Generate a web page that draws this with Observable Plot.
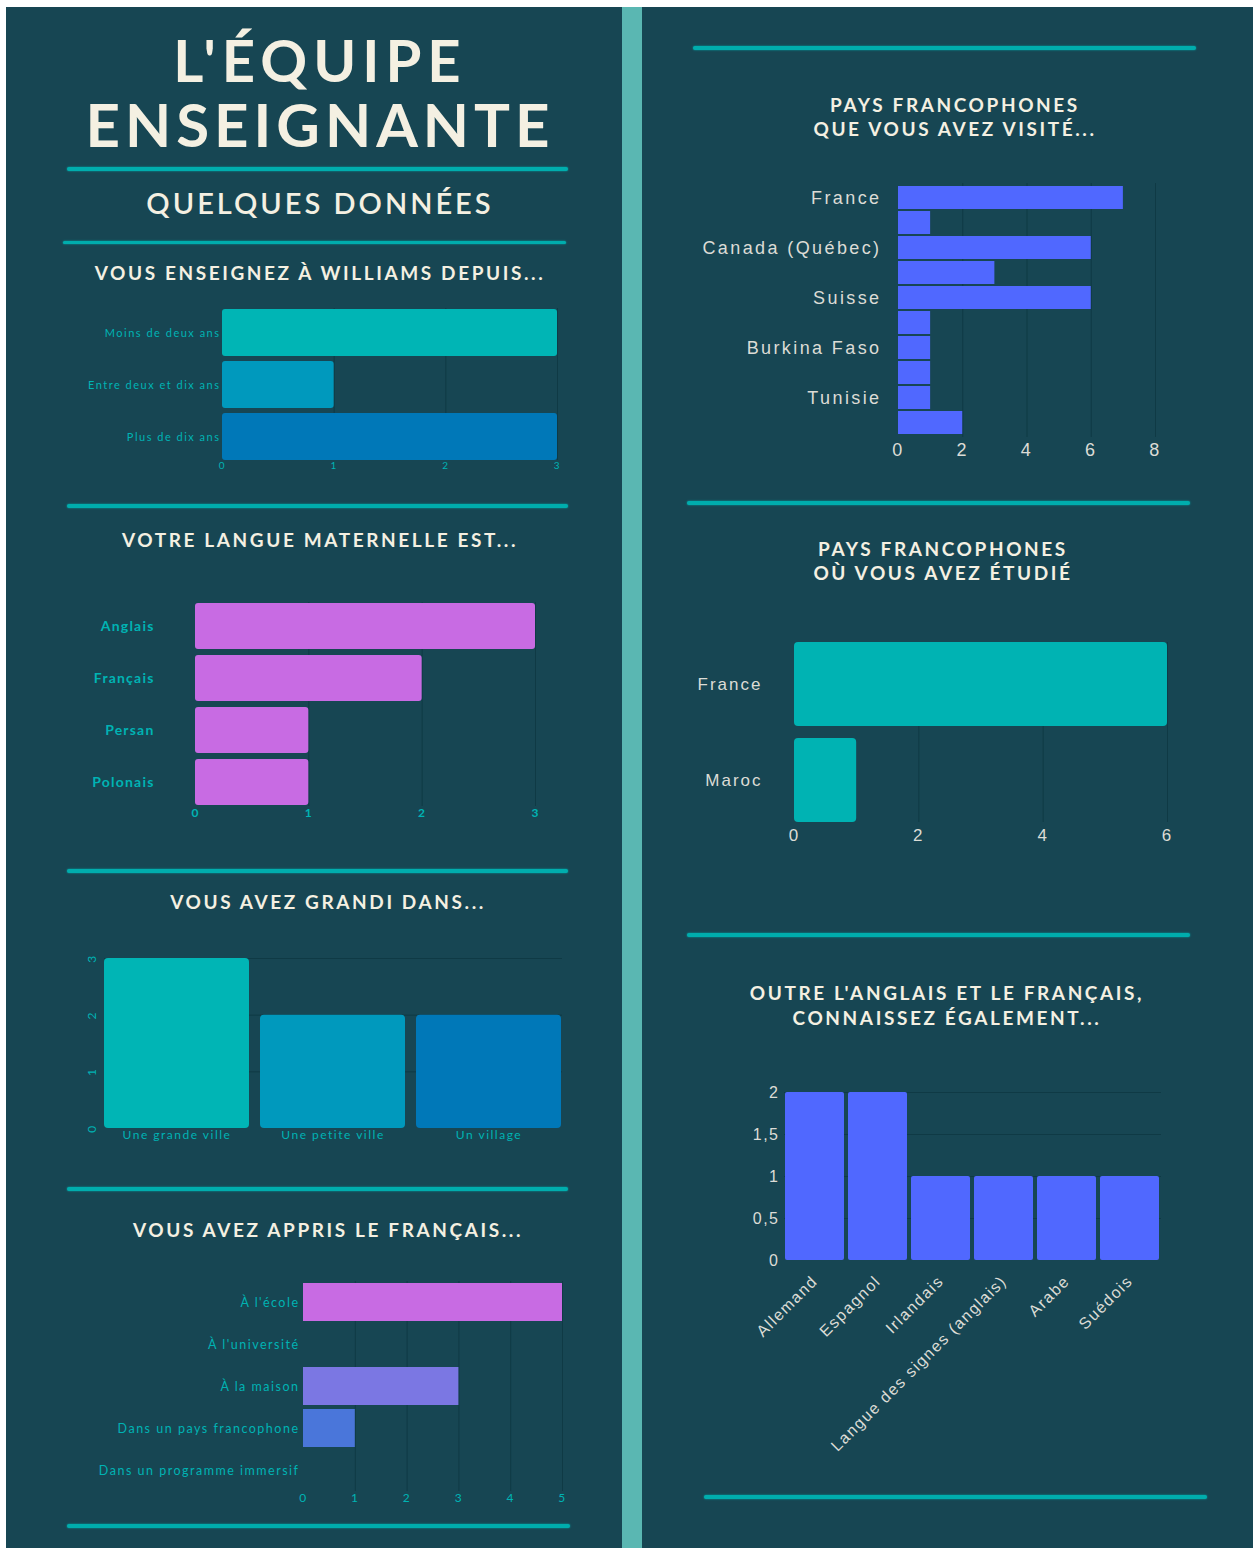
<!DOCTYPE html>
<html>
<head>
<meta charset="utf-8">
<script src="https://cdn.jsdelivr.net/npm/d3@7"></script>
<script src="https://cdn.jsdelivr.net/npm/@observablehq/plot@0.6"></script>
<style>
  html, body { margin: 0; padding: 0; background: #ffffff; width: 1259px; height: 1548px; overflow: hidden; }
  .panel { position: absolute; background: #174653; }
  .sep { position: absolute; background: #5ab7b2; }
  .rule { position: absolute; background: #00adad; border-radius: 2px; box-shadow: 0 0 2px #00adad; }
  .t { position: absolute; color: #f4f0e2; font-family: Lato, "Open Sans", sans-serif; font-weight: 700; text-align: center; white-space: nowrap; }
  .h { font-size: 19px; letter-spacing: 2.6px; line-height: 24px; }
  svg { position: absolute; }
</style>
</head>
<body>
<div class="panel" style="left:6px;top:7px;width:1247px;height:1541px;"></div>
<div class="sep" style="left:622px;top:7px;width:20px;height:1541px;"></div>

<div class="t" style="left:9px;top:30px;width:622px;font-size:58px;letter-spacing:6px;line-height:60px;">L'ÉQUIPE</div>
<div class="t" style="left:9px;top:93px;width:622px;font-size:60px;letter-spacing:5px;line-height:62px;">ENSEIGNANTE</div>
<div class="rule" style="left:67px;top:167px;width:501px;height:4px;"></div>
<div class="t" style="left:9px;top:186px;width:622px;font-size:29px;letter-spacing:3px;line-height:34px;font-weight:600;">QUELQUES DONNÉES</div>
<div class="rule" style="left:63px;top:241px;width:503px;height:3px;"></div>
<div class="t h" style="left:9px;top:261px;width:622px;">VOUS ENSEIGNEZ À WILLIAMS DEPUIS...</div>
<div class="rule" style="left:67px;top:504px;width:501px;height:4px;"></div>
<div class="t h" style="left:9px;top:528px;width:622px;">VOTRE LANGUE MATERNELLE EST...</div>
<div class="rule" style="left:67px;top:869px;width:501px;height:4px;"></div>
<div class="t h" style="left:17px;top:890px;width:622px;">VOUS AVEZ GRANDI DANS...</div>
<div class="rule" style="left:67px;top:1187px;width:501px;height:4px;"></div>
<div class="t h" style="left:17px;top:1218px;width:622px;">VOUS AVEZ APPRIS LE FRANÇAIS...</div>
<div class="rule" style="left:67px;top:1524px;width:503px;height:4px;"></div>

<div class="rule" style="left:693px;top:46px;width:503px;height:4px;"></div>
<div class="t h" style="left:644px;top:93px;width:622px;">PAYS FRANCOPHONES<br>QUE VOUS AVEZ VISITÉ...</div>
<div class="rule" style="left:687px;top:501px;width:503px;height:4px;"></div>
<div class="t h" style="left:632px;top:537px;width:622px;">PAYS FRANCOPHONES<br>OÙ VOUS AVEZ ÉTUDIÉ</div>
<div class="rule" style="left:687px;top:933px;width:503px;height:4px;"></div>
<div class="t h" style="left:636px;top:980px;width:622px;line-height:25px;">OUTRE L'ANGLAIS ET LE FRANÇAIS,<br>CONNAISSEZ ÉGALEMENT...</div>
<div class="rule" style="left:704px;top:1495px;width:503px;height:4px;"></div>

<script>
// ---------- DATA ----------
const tenureCats = ["Moins de deux ans", "Entre deux et dix ans", "Plus de dix ans"];
const tenureVals = [3, 1, 3];
const tenureTicks = [0, 1, 2, 3];

const langCats = ["Anglais", "Français", "Persan", "Polonais"];
const langVals = [3, 2, 1, 1];
const langTicks = [0, 1, 2, 3];

const grewCats = ["Une grande ville", "Une petite ville", "Un village"];
const grewVals = [3, 2, 2];
const grewTicks = [0, 1, 2, 3];

const learnCats = ["À l'école", "À l'université", "À la maison", "Dans un pays francophone", "Dans un programme immersif"];
const learnVals = [5, 0, 3, 1, 0];
const learnTicks = [0, 1, 2, 3, 4, 5];

// visited: every other label is skipped in the original chart
const visitedCats = ["France", "(non affiché 1)", "Canada (Québec)", "(non affiché 2)", "Suisse", "(non affiché 3)", "Burkina Faso", "(non affiché 4)", "Tunisie", "(non affiché 5)"];
const visitedVals = [7, 1, 6, 3, 6, 1, 1, 1, 1, 2];
const visitedTicks = [0, 2, 4, 6, 8];

const studiedCats = ["France", "Maroc"];
const studiedVals = [6, 1];
const studiedTicks = [0, 2, 4, 6];

const otherCats = ["Allemand", "Espagnol", "Irlandais", "Langue des signes (anglais)", "Arabe", "Suédois"];
const otherVals = [2, 2, 1, 1, 1, 1];
const otherTicks = [0, 0.5, 1, 1.5, 2];

// ---------- STYLE ----------
const teal = "#00b3b3";
const blues3 = ["#00b5b5", "#0099bd", "#0078b8"];
const pink = "#c86be3";
const learnColors = ["#c86be3", "#c86be3", "#7b77e3", "#4a76da", "#4a76da"];
const violetBlue = "#5068ff";
const grid = "#0f3a45";
const light = "#dcdcd6";
const fmt = d => String(d).replace(".", ",");

function put(svg, left, top) {
  svg.style.left = left + "px";
  svg.style.top = top + "px";
  document.body.appendChild(svg);
}
const rows = (cats, vals) => cats.map((c, i) => ({c, v: vals[i]}));
const st = ls => ({background: "transparent", overflow: "visible", letterSpacing: ls});

// 1. Vous enseignez à Williams depuis
put(Plot.plot({
  width: 510, height: 180, marginLeft: 162, marginRight: 13, marginTop: 8, marginBottom: 20,
  style: st("1.5px"),
  x: {domain: [0, 3]},
  y: {domain: tenureCats, paddingInner: 0.1, paddingOuter: 0},
  color: {domain: tenureCats, range: blues3},
  marks: [
    Plot.gridX([1, 2, 3], {stroke: grid, strokeOpacity: 1}),
    Plot.barX(rows(tenureCats, tenureVals), {x: "v", y: "c", fill: "c", rx: 3}),
    Plot.axisX({ticks: tenureTicks, tickFormat: fmt, tickSize: 0, tickPadding: 1, fontSize: 10, color: teal, fontFamily: "Lato", label: null}),
    Plot.axisY({tickSize: 0, tickPadding: 2, fontSize: 11, color: teal, fontFamily: "Lato", label: null})
  ]
}), 60, 300);

// 2. Langue maternelle
put(Plot.plot({
  width: 500, height: 240, marginLeft: 135, marginRight: 25, marginTop: 12, marginBottom: 24,
  style: st("1.2px"),
  x: {domain: [0, 3]},
  y: {domain: langCats, paddingInner: 0.12, paddingOuter: 0},
  marks: [
    Plot.gridX([1, 2, 3], {stroke: grid, strokeOpacity: 1}),
    Plot.barX(rows(langCats, langVals), {x: "v", y: "c", fill: pink, rx: 3}),
    Plot.axisX({ticks: langTicks, tickFormat: fmt, tickSize: 0, tickPadding: 2, fontSize: 12, color: teal, fontFamily: "Lato", fontWeight: 700, label: null}),
    Plot.axisY({tickSize: 0, tickPadding: 41, fontSize: 14, color: teal, fontFamily: "Lato", fontWeight: 700, label: null})
  ]
}), 60, 590);

// 3. Vous avez grandi dans
put(Plot.plot({
  width: 520, height: 210, marginLeft: 44, marginRight: 18, marginTop: 18, marginBottom: 22,
  style: st("1.5px"),
  y: {domain: [0, 3]},
  x: {domain: grewCats, paddingInner: 0.07, paddingOuter: 0},
  color: {domain: grewCats, range: blues3},
  marks: [
    Plot.gridY([1, 2, 3], {stroke: grid, strokeOpacity: 1}),
    Plot.barY(rows(grewCats, grewVals), {x: "c", y: "v", fill: "c", rx: 4}),
    Plot.axisY({ticks: grewTicks, tickFormat: fmt, tickSize: 0, tickPadding: 9, tickRotate: -90, fontSize: 12, color: teal, fontFamily: "Lato", label: null}),
    Plot.axisX({tickSize: 0, tickPadding: 2, fontSize: 12, color: teal, fontFamily: "Lato", label: null})
  ]
}), 60, 940);

// 4. Vous avez appris le français
put(Plot.plot({
  width: 520, height: 240, marginLeft: 243, marginRight: 18, marginTop: 11, marginBottom: 19,
  style: st("1.5px"),
  x: {domain: [0, 5]},
  y: {domain: learnCats, paddingInner: 0.09, paddingOuter: 0},
  color: {domain: learnCats, range: learnColors},
  marks: [
    Plot.gridX([1, 2, 3, 4, 5], {stroke: grid, strokeOpacity: 1}),
    Plot.barX(rows(learnCats, learnVals).filter(d => d.v > 0), {x: "v", y: "c", fill: "c"}),
    Plot.axisX({ticks: learnTicks, tickFormat: fmt, tickSize: 0, tickPadding: 2, fontSize: 12, color: teal, fontFamily: "Lato", label: null}),
    Plot.axisY({tickSize: 0, tickPadding: 4, fontSize: 12.5, color: teal, fontFamily: "Lato", label: null})
  ]
}), 60, 1270);

// 5. Pays visités
put(Plot.plot({
  width: 520, height: 300, marginLeft: 218, marginRight: 45, marginTop: 13, marginBottom: 33,
  style: st("2.4px"),
  x: {domain: [0, 8]},
  y: {domain: visitedCats, paddingInner: 0.1, paddingOuter: 0},
  marks: [
    Plot.gridX([2, 4, 6, 8], {stroke: grid, strokeOpacity: 1}),
    Plot.barX(rows(visitedCats, visitedVals), {x: "v", y: "c", fill: violetBlue}),
    Plot.axisX({ticks: visitedTicks, tickFormat: fmt, tickSize: 0, tickPadding: 6, fontSize: 18, color: light, fontFamily: "Liberation Sans", label: null}),
    Plot.axisY({tickSize: 0, tickPadding: 17, fontSize: 18, color: light, fontFamily: "Liberation Sans", label: null,
      tickFormat: d => d.startsWith("(non") ? "" : d})
  ]
}), 680, 170);

// 6. Pays où vous avez étudié
put(Plot.plot({
  width: 520, height: 240, marginLeft: 114, marginRight: 33, marginTop: 22, marginBottom: 38,
  style: st("2px"),
  x: {domain: [0, 6]},
  y: {domain: studiedCats, paddingInner: 0.13, paddingOuter: 0},
  marks: [
    Plot.gridX([2, 4, 6], {stroke: grid, strokeOpacity: 1}),
    Plot.barX(rows(studiedCats, studiedVals), {x: "v", y: "c", fill: teal, rx: 4}),
    Plot.axisX({ticks: studiedTicks, tickFormat: fmt, tickSize: 0, tickPadding: 6, fontSize: 17, color: light, fontFamily: "Liberation Sans", label: null}),
    Plot.axisY({tickSize: 0, tickPadding: 32, fontSize: 17, color: light, fontFamily: "Liberation Sans", label: null})
  ]
}), 680, 620);

// 7. Autres langues
put(Plot.plot({
  width: 500, height: 420, marginLeft: 84, marginRight: 39, marginTop: 22, marginBottom: 230,
  style: st("1.5px"),
  y: {domain: [0, 2]},
  x: {domain: otherCats, paddingInner: 0.06, paddingOuter: 0},
  marks: [
    Plot.gridY([0.5, 1, 1.5, 2], {stroke: grid, strokeOpacity: 1}),
    Plot.barY(rows(otherCats, otherVals), {x: "c", y: "v", fill: violetBlue, rx: 2}),
    Plot.axisY({ticks: otherTicks, tickFormat: fmt, tickSize: 0, tickPadding: 5, fontSize: 16, color: light, fontFamily: "Liberation Sans", label: null}),
    Plot.axisX({tickSize: 0, tickPadding: 18, tickRotate: -45, fontSize: 16, color: light, fontFamily: "Liberation Sans", label: null})
  ]
}), 700, 1070);
</script>
</body>
</html>
